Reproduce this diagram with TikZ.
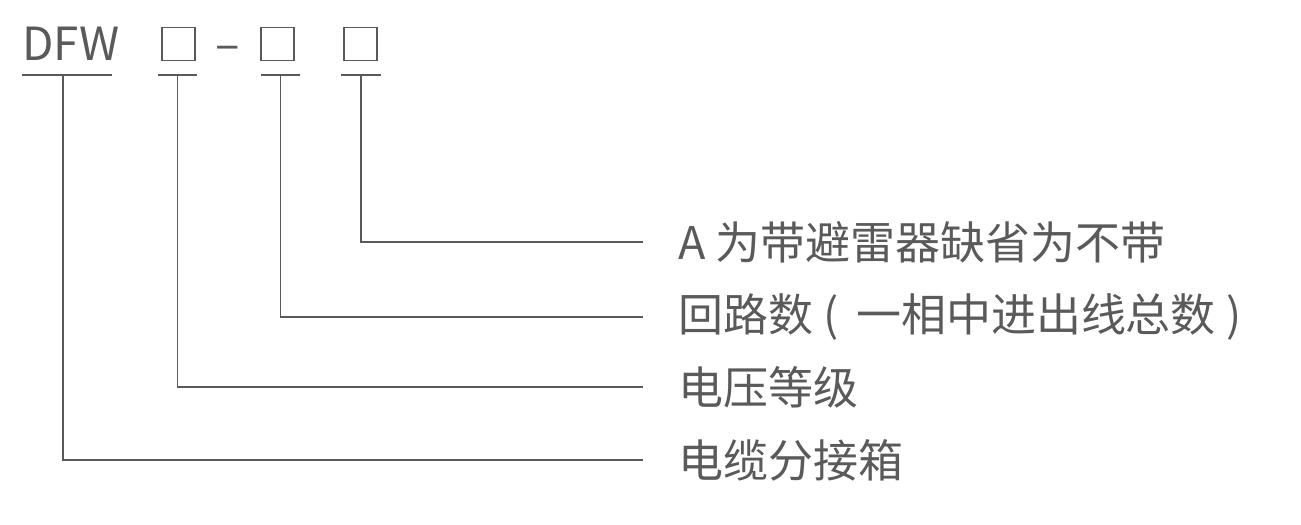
\documentclass[tikz,border=0pt]{standalone}
\usepackage{fontspec}
\setmainfont{Noto Sans CJK SC}
\usetikzlibrary{positioning}
\definecolor{ink}{HTML}{5a5a5a}
\tikzset{
  code/.style={font=\fontsize{26}{26}\selectfont, text=ink, inner sep=0pt, anchor=base west},
  slot/.style={draw=ink, line width=1.1pt, minimum size=0.66cm, inner sep=0pt},
  lbl/.style={font=\fontsize{25.6}{30}\selectfont, text=ink, anchor=west, inner sep=0pt},
  lead/.style={draw=ink, line width=1pt},
}
\begin{document}
\begin{tikzpicture}[x=0.02cm,y=-0.02cm]
\useasboundingbox (0,0) rectangle (1301,524);
% model code
\node[code] (dfw) at (22,60) {DFW};
\node[slot] (s1) at (178.5,44) {};
\node[code,anchor=base] (dash) at (228,60) {–};
\node[slot] (s2) at (277.5,44) {};
\node[slot] (s3) at (360.5,44) {};
% underlines
\draw[lead] (22,75) -- (112,75);
\draw[lead] (158,75) -- (197,75);
\draw[lead] (261,75) -- (300,75);
\draw[lead] (341,75) -- (381,75);
\coordinate (t0) at (63,75);
\coordinate (t1) at (177.5,75);
\coordinate (t2) at (280.5,75);
\coordinate (t3) at (361,75);
% meanings
\node[lbl] (l1) at (678,242) {A 为带避雷器缺省为不带};
\node[lbl] (l2) at (678,317) {回路数 (\, 一相中进出线总数 )};
\node[lbl] (l3) at (678,387) {电压等级};
\node[lbl] (l4) at (678,460) {电缆分接箱};
\draw[lead] (t3) |- ([xshift=-0.7cm]l1.west);
\draw[lead] (t2) |- ([xshift=-0.7cm]l2.west);
\draw[lead] (t1) |- ([xshift=-0.7cm]l3.west);
\draw[lead] (t0) |- ([xshift=-0.7cm]l4.west);
\end{tikzpicture}
\end{document}
